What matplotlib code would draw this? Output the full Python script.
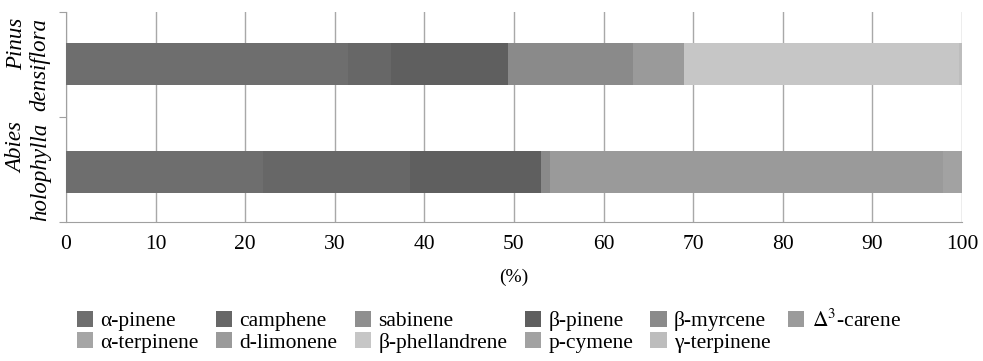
import matplotlib.pyplot as plt
import numpy as np

plt.rcParams['font.family'] = ['Liberation Serif', 'DejaVu Serif']
plt.rcParams['mathtext.fontset'] = 'stix'

species = ['Pinus\ndensiflora', 'Abies\nholophylla']
compounds = ['α-pinene', 'camphene', 'sabinene', 'β-pinene', 'β-myrcene',
             r'$\Delta^3$-carene', 'α-terpinene', 'd-limonene', 'β-phellandrene',
             'p-cymene', 'γ-terpinene']
colors = ['#6e6e6e', '#676767', '#8f8f8f', '#5f5f5f', '#8a8a8a', '#9b9b9b',
          '#a5a5a5', '#9a9a9a', '#c6c6c6', '#a2a2a2', '#bdbdbd']

# percent composition, same order as compounds
pinus = [31.5, 4.8, 0.0, 13.0, 14.0, 0.0, 0.0, 5.7, 30.7, 0.0, 0.3]
abies = [22.0, 16.4, 0.0, 14.6, 1.0, 0.0, 0.0, 43.9, 0.0, 2.1, 0.0]

fig = plt.figure(figsize=(9.83, 3.61), dpi=100)
ax = fig.add_axes([0.0671, 0.385, 0.9115, 0.582])

vals = np.array([pinus, abies])
ypos = np.array([0.5, 1.52])
left = np.zeros(2)
handles = []
for i, name in enumerate(compounds):
    b = ax.barh(ypos, vals[:, i], left=left, height=0.4, color=colors[i],
                label=name, zorder=3)
    handles.append(b)
    left += vals[:, i]

ax.set_xlim(0, 100)
ax.set_ylim(2, 0)
ax.set_xticks(np.arange(0, 101, 10))
ax.tick_params(axis='x', length=0, labelsize=15.5, pad=9)
ax.set_yticks([0, 1, 2])
ax.set_yticklabels([])
ax.tick_params(axis='y', which='major', length=5, color='#a0a0a0')
ax.set_yticks(ypos, minor=True)
ax.set_yticklabels(species, minor=True, rotation=90, va='center',
                   fontsize=16.5, style='italic', linespacing=1.15)
ax.tick_params(axis='y', which='minor', length=0, pad=11)
ax.grid(axis='x', color='#a8a8a8', linewidth=1, zorder=0)
for s in ['top', 'right']:
    ax.spines[s].set_visible(False)
for s in ['left', 'bottom']:
    ax.spines[s].set_color('#a0a0a0')
ax.set_xlabel('(%)', fontsize=14, labelpad=11)

# column-wise legend order so rows read like the original
order = [0, 6, 1, 7, 2, 8, 3, 9, 4, 10, 5]
fig.legend([handles[k] for k in order], [compounds[k] for k in order],
           ncol=6, loc='center', bbox_to_anchor=(0.497, 0.083),
           frameon=False, fontsize=15.5, handlelength=0.75, handleheight=0.75,
           handletextpad=0.35, columnspacing=0.8, labelspacing=0.05,
           borderpad=0.1)

fig.savefig('out.png', dpi=100)
